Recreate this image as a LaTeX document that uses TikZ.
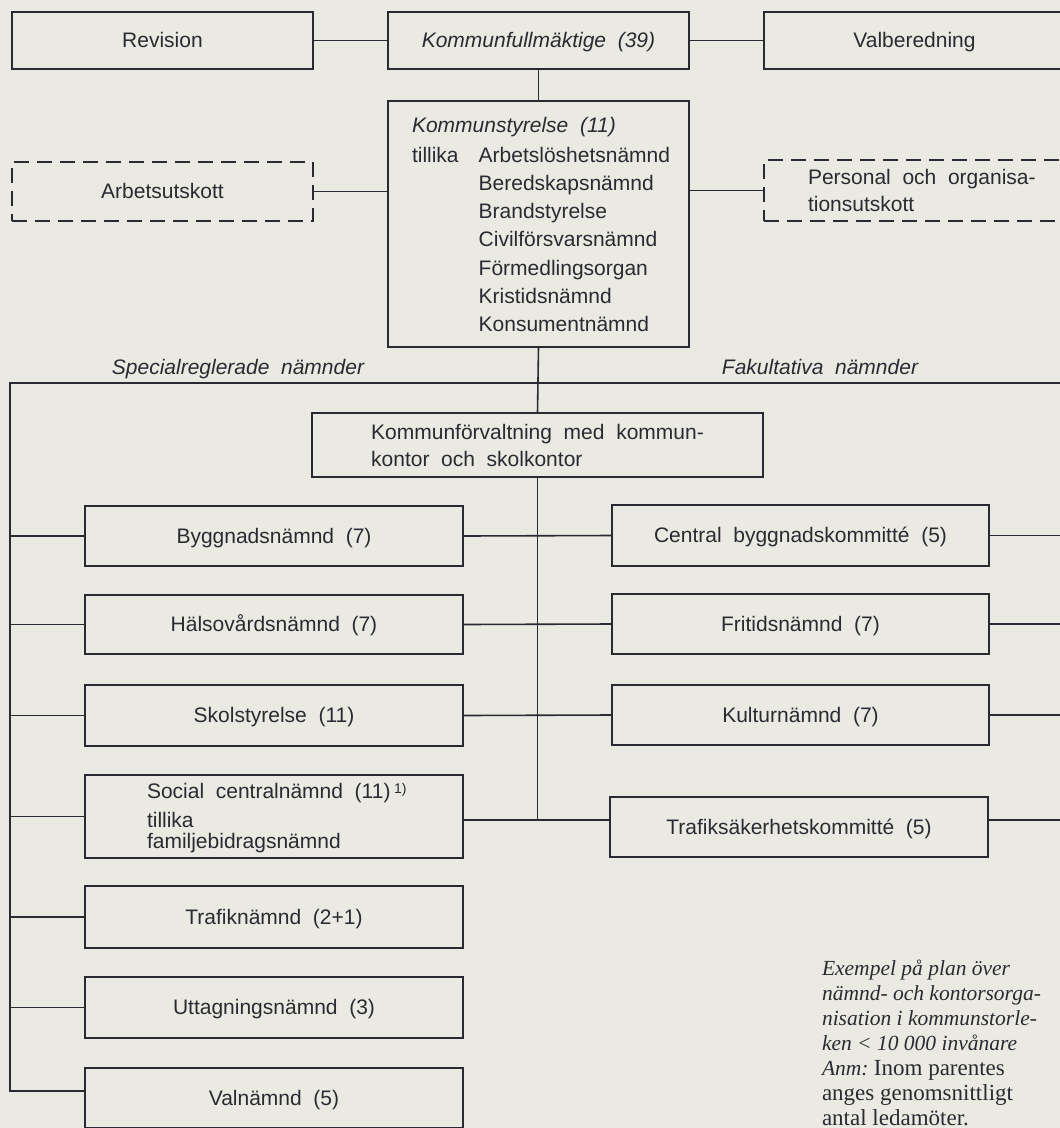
\documentclass[tikz,border=0pt]{standalone}
\usepackage{fontspec}
\setmainfont{Liberation Sans}[WordSpace=2]
\newfontfamily\capfont{Liberation Serif}
\usetikzlibrary{calc}

\definecolor{paper}{RGB}{234,234,227}
\definecolor{ink}{RGB}{42,42,50}

\begin{document}
\begin{tikzpicture}[x=1pt,y=-1pt,
  font=\fontsize{21}{28.3}\selectfont,
  every node/.style={text=ink},
  box/.style={draw=ink, line width=1.6pt, inner sep=0pt, outer sep=0pt, anchor=north west},
  one/.style={text height=16pt, text depth=2pt},
  dashbox/.style={box, dash pattern=on 15pt off 8pt},
  conn/.style={draw=ink, line width=1.6pt},
  txt/.style={inner sep=0pt, outer sep=0pt}]

\fill[paper] (0,0) rectangle (1060,1128);
\useasboundingbox (0,0) rectangle (1060,1128);
\clip (0,0) rectangle (1060,1128);

% top row
\node[box,one,minimum width=301pt,minimum height=57pt] (rev) at (12,12) {Revision};
\node[box,one,minimum width=301pt,minimum height=57pt] (kf) at (388,12) {\itshape Kommunfullmäktige (39)};
\node[box,one,minimum width=301pt,minimum height=57pt] (valb) at (764,12) {Valberedning};

% executive board and its committees
\node[dashbox,one,minimum width=301pt,minimum height=59pt] (au) at (12,162) {Arbetsutskott};
\node[box,minimum width=301pt,minimum height=246pt] (ks) at (388,101) {};
\node[txt,anchor=base west] (kshead) at (412,132) {\itshape Kommunstyrelse (11)};
\node[txt,anchor=base west] (kslist) at (412,162)
  {\begin{tabular}[t]{@{}l@{\hspace{20pt}}l@{}}
   tillika & Arbetslöshetsnämnd\\
           & Beredskapsnämnd\\
           & Brandstyrelse\\
           & Civilförsvarsnämnd\\
           & Förmedlingsorgan\\
           & Kristidsnämnd\\
           & Konsumentnämnd
   \end{tabular}};
\node[dashbox,minimum width=301pt,minimum height=61pt] (pers) at (764,160) {};
\node[txt,anchor=base west] (pers1) at (808,184) {Personal och organisa-};
\node[txt,anchor=base west] (pers2) at (808,211) {tionsutskott};

% group headings
\node[txt,anchor=base] (spec) at (238,374) {\itshape Specialreglerade nämnder};
\node[txt,anchor=base] (fak) at (820,374) {\itshape Fakultativa nämnder};

% administration
\node[box,minimum width=451pt,minimum height=64pt,align=left,
      font=\fontsize{21}{27}\selectfont] (kfv) at (312,413)
  {Kommunförvaltning med kommun-\\kontor och skolkontor};

% special boards (left column)
\node[box,one,minimum width=378pt,minimum height=60pt] (bygg) at (85,506) {Byggnadsnämnd (7)};
\node[box,one,minimum width=378pt,minimum height=59pt] (hals) at (85,595) {Hälsovårdsnämnd (7)};
\node[box,one,minimum width=378pt,minimum height=61pt] (skol) at (85,685) {Skolstyrelse (11)};
\node[box,minimum width=378pt,minimum height=83pt] (soc) at (85,775) {};
\node[txt,anchor=base west] (soc1) at (147,798) {Social centralnämnd (11)\,\raisebox{5pt}{\fontsize{14}{14}\selectfont 1)}};
\node[txt,anchor=base west] (soc2) at (147,827) {tillika};
\node[txt,anchor=base west] (soc3) at (147,848) {familjebidragsnämnd};
\node[box,one,minimum width=378pt,minimum height=62pt] (traf) at (85,886) {Trafiknämnd (2+1)};
\node[box,one,minimum width=378pt,minimum height=61pt] (utt) at (85,977) {Uttagningsnämnd (3)};
\node[box,one,minimum width=378pt,minimum height=60pt] (val) at (85,1068) {Valnämnd (5)};

% optional boards (right column)
\node[box,one,minimum width=377pt,minimum height=61pt] (cbk) at (612,505) {Central byggnadskommitté (5)};
\node[box,one,minimum width=377pt,minimum height=60pt] (frit) at (612,594) {Fritidsnämnd (7)};
\node[box,one,minimum width=377pt,minimum height=60pt] (kult) at (612,685) {Kulturnämnd (7)};
\node[box,one,minimum width=378pt,minimum height=60pt] (tsk) at (610,797) {Trafiksäkerhetskommitté (5)};

% bus lines
\coordinate (tl) at (10,383);
\coordinate (tr) at (1075,383);
\coordinate (bl) at (10,1091);
\coordinate (cb) at (538.5,820);
\coordinate (re) at (1075,820);

\draw[conn] (rev) -- (kf);
\draw[conn] (kf) -- (valb);
\draw[conn] (kf) -- (ks);
\draw[conn] (au.east) -- (au.east -| ks.west);
\draw[conn] (ks.east |- pers.west) -- (pers.west);
\draw[conn] (ks.south) -- (kfv.north);
\draw[conn] (kfv.south) -- (kfv.south |- cb);
\draw[conn] (tr) -- (tl) -- (bl) -- (bl -| val.west);

\foreach \n in {bygg,hals,skol,soc,traf,utt}
  \draw[conn] (\n.west -| tl) -- (\n.west);

\draw[conn] (bygg.east) -- (cbk.west);
\draw[conn] (hals.east) -- (frit.west);
\draw[conn] (skol.east) -- (kult.west);
\draw[conn] (soc.east |- cb) -- (tsk.west |- cb);

\foreach \n in {cbk,frit,kult}
  \draw[conn] (\n.east) -- (\n.east -| re);
\draw[conn] (tsk.east |- cb) -- (re);

% caption
\node[txt,anchor=base west,font=\capfont\fontsize{21.5}{25}\selectfont] (cap) at (822,975)
  {\begin{tabular}[t]{@{}l@{}}
   \itshape Exempel på plan över\\
   \itshape nämnd- och kontorsorga-\\
   \itshape nisation i kommunstorle-\\
   \itshape ken < 10 000 invånare\\
   \textit{Anm:}\ {\fontsize{23}{25}\selectfont Inom parentes}\\
   {\fontsize{23}{25}\selectfont anges genomsnittligt}\\
   {\fontsize{23}{25}\selectfont antal ledamöter.}
   \end{tabular}};
\end{tikzpicture}
\end{document}
